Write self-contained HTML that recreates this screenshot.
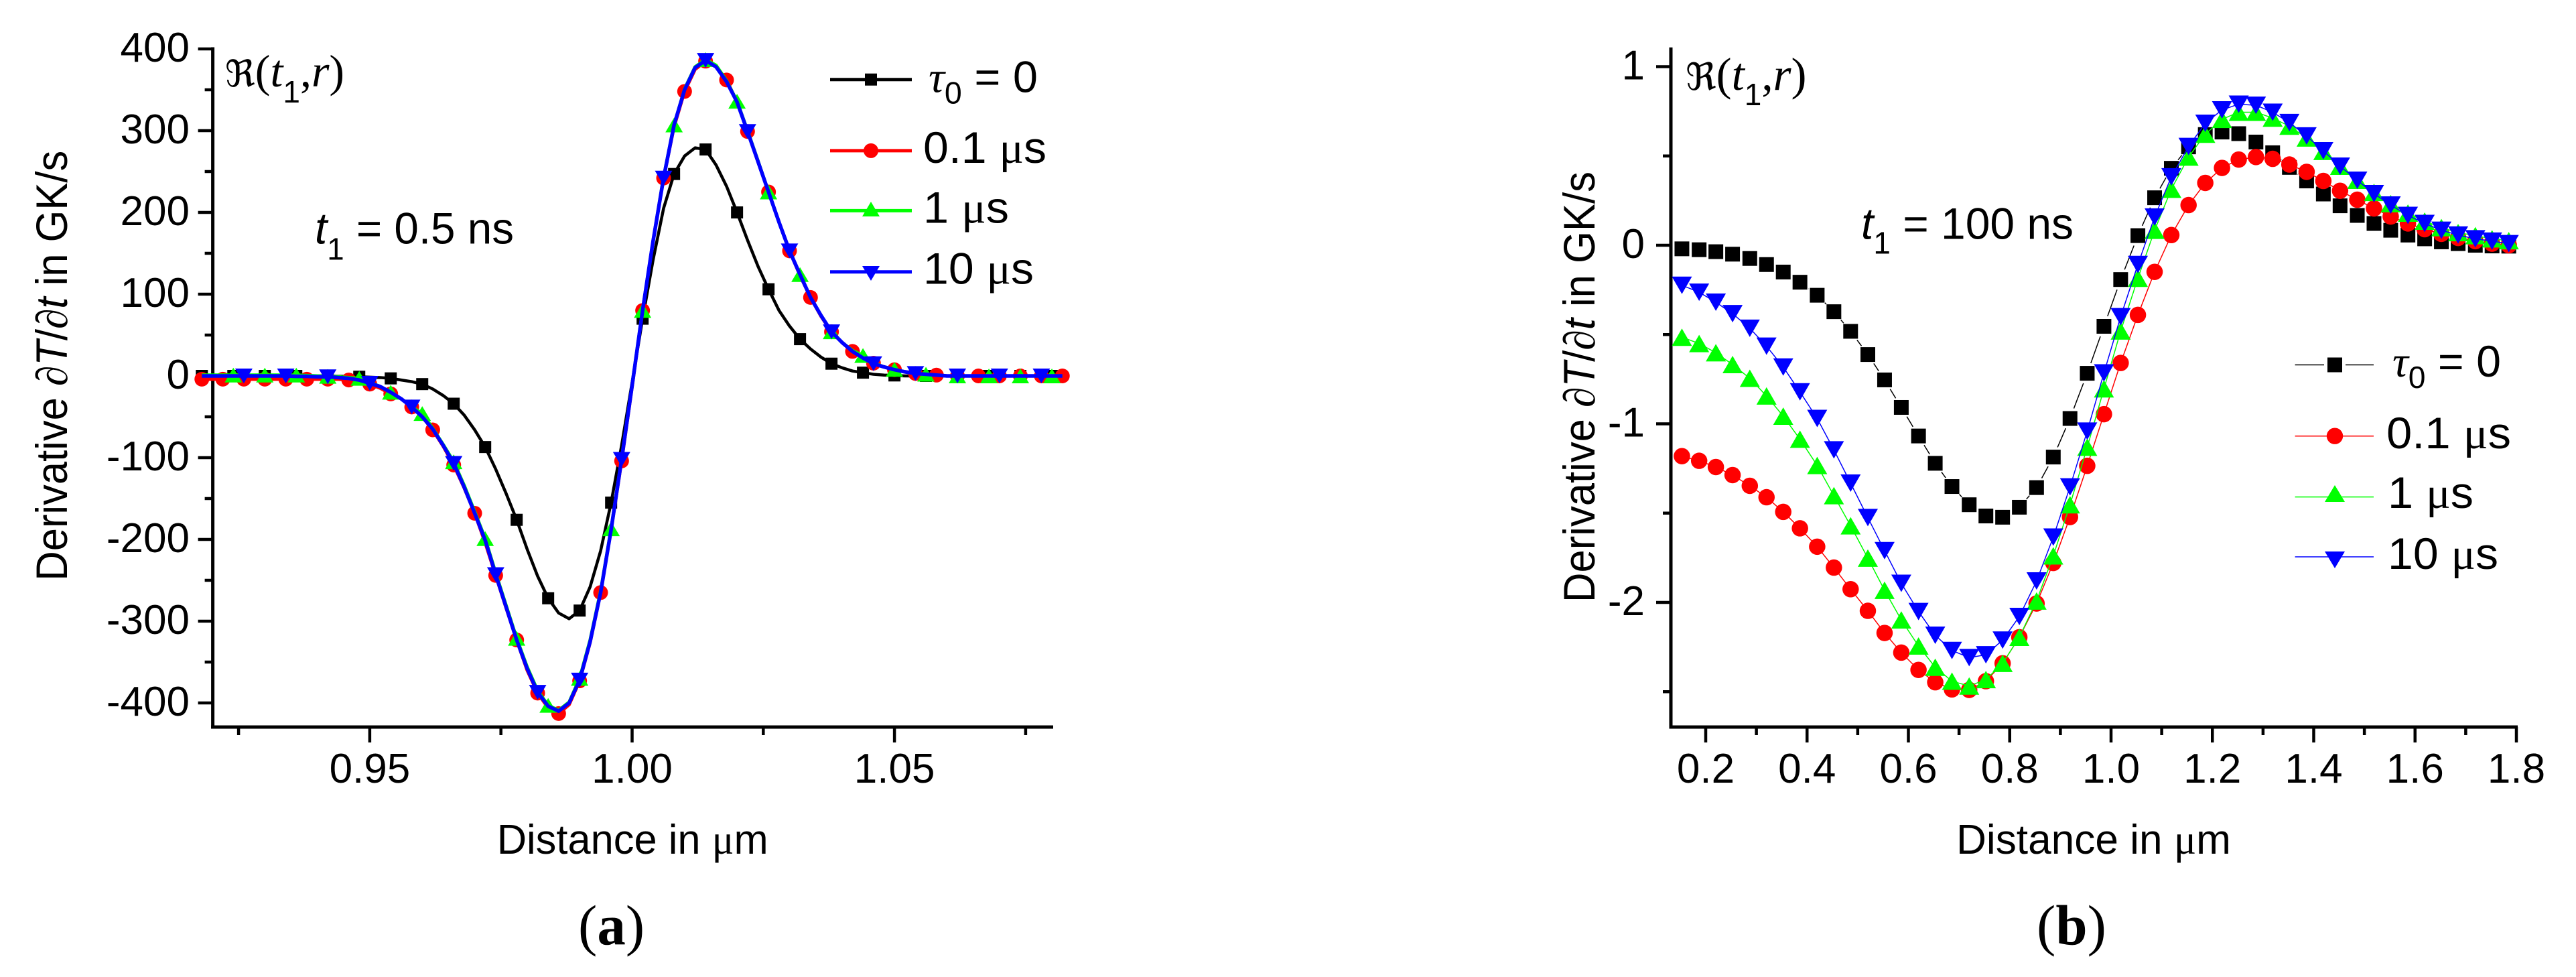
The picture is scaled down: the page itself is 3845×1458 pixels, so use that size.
<!DOCTYPE html>
<html lang="en">
<head>
<meta charset="utf-8">
<title>Derivative of temperature versus distance</title>
<style>
html,body{margin:0;padding:0;background:#fff;}
svg{display:block;}
text{font-family:"Liberation Sans",sans-serif;fill:#000;}
.tick{font-size:62px;}
.title{font-size:62px;}
.ytitle{font-size:66px;}
.leg{font-size:66px;}
.note{font-size:66px;}
.sub{font-size:46px;}
.ser{font-family:"Liberation Serif",serif;}
.it{font-style:italic;}
.cap{font-family:"Liberation Serif",serif;font-size:85px;}
</style>
</head>
<body>
<svg id="figure" xmlns="http://www.w3.org/2000/svg" width="3845" height="1458" viewBox="0 0 3845 1458">
  <rect x="0" y="0" width="3845" height="1458" fill="#fff"/>

  <g id="panel-a">
    <g id="a-axes"></g>
    <g id="a-series"></g>
    <text class="ytitle" transform="translate(100,866.7) rotate(-90)" textLength="642" lengthAdjust="spacingAndGlyphs">Derivative <tspan class="ser it">∂</tspan><tspan class="it">T</tspan>/<tspan class="ser it">∂</tspan><tspan class="it">t</tspan> in GK/s</text>
    <text class="title" x="741.7" y="1274" textLength="405" lengthAdjust="spacingAndGlyphs">Distance in <tspan class="ser">μ</tspan>m</text>
    <text class="ser" font-size="68" x="336" y="129"><tspan font-family="DejaVu Sans" font-size="55">ℜ</tspan>(<tspan class="it">t</tspan><tspan font-family="Liberation Sans" font-size="46" dy="24">1</tspan><tspan dy="-24">,</tspan><tspan class="it">r</tspan>)</text>
    <text class="note" x="470" y="363.6" textLength="297" lengthAdjust="spacingAndGlyphs"><tspan class="it">t</tspan><tspan class="sub" dy="24">1</tspan><tspan dy="-24"> = 0.5 ns</tspan></text>
    <g>
      <g>
        <line x1="1239" x2="1361" y1="118.7" y2="118.7" stroke="#000" stroke-width="5"/>
        <rect x="1291" y="109.7" width="18" height="18" fill="#000"/>
        <text class="leg" x="1386" y="137.3" textLength="163" lengthAdjust="spacingAndGlyphs"><tspan class="ser it">τ</tspan><tspan class="sub" dy="17">0</tspan><tspan dy="-17"> = 0</tspan></text>
      </g>
      <g>
        <line x1="1239" x2="1361" y1="224.9" y2="224.9" stroke="#f00" stroke-width="5"/>
        <circle cx="1300" cy="224.9" r="11" fill="#f00"/>
        <text class="leg" x="1378" y="243" textLength="184" lengthAdjust="spacingAndGlyphs">0.1 <tspan class="ser">μ</tspan>s</text>
      </g>
      <g>
        <line x1="1239" x2="1361" y1="314.4" y2="314.4" stroke="#0f0" stroke-width="5"/>
        <polygon points="1287,323 1313,323 1300,301" fill="#0f0"/>
        <text class="leg" x="1378" y="332.5" textLength="128" lengthAdjust="spacingAndGlyphs">1 <tspan class="ser">μ</tspan>s</text>
      </g>
      <g>
        <line x1="1239" x2="1361" y1="405.7" y2="405.7" stroke="#00f" stroke-width="5"/>
        <polygon points="1287,397 1313,397 1300,419" fill="#00f"/>
        <text class="leg" x="1378" y="423.4" textLength="165" lengthAdjust="spacingAndGlyphs">10 <tspan class="ser">μ</tspan>s</text>
      </g>
    </g>
    <text class="cap" x="863" y="1409.5">(<tspan font-weight="bold">a</tspan>)</text>
  </g>

  <g id="panel-b">
    <g id="b-axes"></g>
    <g id="b-series"></g>
    <text class="ytitle" transform="translate(2380,899) rotate(-90)" textLength="643" lengthAdjust="spacingAndGlyphs">Derivative <tspan class="ser it">∂</tspan><tspan class="it">T</tspan>/<tspan class="ser it">∂</tspan><tspan class="it">t</tspan> in GK/s</text>
    <text class="title" x="2920" y="1274" textLength="410" lengthAdjust="spacingAndGlyphs">Distance in <tspan class="ser">μ</tspan>m</text>
    <text class="ser" font-size="69" x="2516" y="134"><tspan font-family="DejaVu Sans" font-size="56">ℜ</tspan>(<tspan class="it">t</tspan><tspan font-family="Liberation Sans" font-size="46" dy="23">1</tspan><tspan dy="-23">,</tspan><tspan class="it">r</tspan>)</text>
    <text class="note" x="2778" y="356.5" textLength="317" lengthAdjust="spacingAndGlyphs"><tspan class="it">t</tspan><tspan class="sub" dy="22">1</tspan><tspan dy="-22"> = 100 ns</tspan></text>
    <g>
      <g>
        <line x1="3425.6" x2="3469" y1="544.5" y2="544.5" stroke="#000" stroke-width="1.5"/>
        <line x1="3501" x2="3543" y1="544.5" y2="544.5" stroke="#000" stroke-width="1.5"/>
        <rect x="3474" y="533.5" width="22" height="22" fill="#000"/>
        <text class="leg" x="3571" y="562" textLength="162" lengthAdjust="spacingAndGlyphs"><tspan class="ser it">τ</tspan><tspan class="sub" dy="17">0</tspan><tspan dy="-17"> = 0</tspan></text>
      </g>
      <g>
        <line x1="3425.6" x2="3543" y1="650.7" y2="650.7" stroke="#f00" stroke-width="1.5"/>
        <circle cx="3485" cy="650.7" r="12.2" fill="#f00"/>
        <text class="leg" x="3562" y="669" textLength="186" lengthAdjust="spacingAndGlyphs">0.1 <tspan class="ser">μ</tspan>s</text>
      </g>
      <g>
        <line x1="3425.6" x2="3543" y1="741.6" y2="741.6" stroke="#0f0" stroke-width="1.5"/>
        <polygon points="3470,749 3500,749 3485,724" fill="#0f0"/>
        <text class="leg" x="3564" y="758" textLength="128" lengthAdjust="spacingAndGlyphs">1 <tspan class="ser">μ</tspan>s</text>
      </g>
      <g>
        <line x1="3425.6" x2="3543" y1="831" y2="831" stroke="#00f" stroke-width="1.5"/>
        <polygon points="3470,823 3500,823 3485,848" fill="#00f"/>
        <text class="leg" x="3564" y="849" textLength="165" lengthAdjust="spacingAndGlyphs">10 <tspan class="ser">μ</tspan>s</text>
      </g>
    </g>
    <text class="cap" x="3040" y="1409.5">(<tspan font-weight="bold">b</tspan>)</text>
  </g>
</svg>

<script>
// ---------- Panel (a) data ----------
const aDistance = [0.918,0.920,0.922,0.924,0.926,0.928,0.930,0.932,0.934,0.936,0.938,0.940,0.942,0.944,0.946,0.948,0.950,0.952,0.954,0.956,0.958,0.960,0.962,0.964,0.966,0.968,0.970,0.972,0.974,0.976,0.978,0.980,0.982,0.984,0.986,0.988,0.990,0.992,0.994,0.996,0.998,1.000,1.002,1.004,1.006,1.008,1.010,1.012,1.014,1.016,1.018,1.020,1.022,1.024,1.026,1.028,1.030,1.032,1.034,1.036,1.038,1.040,1.042,1.044,1.046,1.048,1.050,1.052,1.054,1.056,1.058,1.060,1.062,1.064,1.066,1.068,1.070,1.072,1.074,1.076,1.078,1.080,1.082];
const aTau0 = [0,0,0,0,0,0,0,0,0,0,0,0,0,-0.5,-0.5,-1,-1.5,-2,-3,-5,-7,-10,-16,-24,-34,-48,-66,-87,-114,-144,-176,-212,-245,-272,-290,-297,-287,-258,-214,-155,-85,-8,70,142,205,247,269,279,277,258,232,200,166,134,106,80,61,45,33,23,15,10,6,4,2,1,0.6,0,0,0,0,0,0,0,0,0,0,0,0,0,0,0,0];
const aTau01 = [-4,-4,-4,-4,-4,-4,-4,-4,-4,-4,-4,-4,-4,-4,-5,-7,-10,-15,-22,-28,-38,-50,-66,-86,-109,-137,-168,-204,-244,-284,-323,-360,-388,-406,-413,-402,-373,-326,-265,-188,-104,-13,80,165,242,305,348,375,385,379,362,335,299,262,225,188,153,123,96,73,54,41,30,22,15.6,11,7.6,5,3,2,1,0,0,0,0,0,0,0,0,0,0,0,0];
const aTau1 = [1,1,1,1,1,1,1,1,1,1,0.5,0,-0.5,-1,-2,-3,-8,-13,-20,-28,-38,-46,-64,-84,-105,-134,-166,-199,-241,-281,-321,-356,-385,-403,-409,-399,-370,-323,-263,-187,-101,-11,80,165,243,307,351,378,387,380,361,336,300,263,225,188,153,124,96,74,54,41,31,25,16,11,8,5,3,2,1,0,0,0,0,0,0,0,0,0,0,0,0];
const aTau10 = [0,0,0,0,0,0,0,0,0,-0.5,-0.5,-1,-1,-2,-3,-5,-9,-13,-20,-28,-38,-50,-65,-85,-107,-136,-168,-201,-243,-283,-323,-358,-387,-404,-410,-400,-372,-325,-265,-188,-102,-12,80,165,242,307,350,377,386,378,360,335,299,262,225,188,153,124,96,74,54,41,30,22,15,11,7.6,5,3,2,1,0,0,0,0,0,0,0,0,0,0,0,0];
const aYMajor = [-400,-300,-200,-100,0,100,200,300,400];
const aYMinor = [-350,-250,-150,-50,50,150,250,350];
const aXMajor = [0.95,1.00,1.05];
const aXMinor = [0.925,0.975,1.025,1.075];
const aXLabels = ["0.95","1.00","1.05"];

// ---------- Panel (b) data ----------
const bDistance = [0.153,0.187,0.220,0.253,0.287,0.320,0.353,0.386,0.420,0.453,0.486,0.520,0.553,0.586,0.620,0.653,0.686,0.720,0.753,0.786,0.819,0.853,0.886,0.919,0.953,0.986,1.019,1.053,1.086,1.119,1.153,1.186,1.219,1.252,1.286,1.319,1.352,1.386,1.419,1.452,1.486,1.519,1.552,1.586,1.619,1.652,1.685,1.719,1.752,1.785];
const bTau0 = [-0.02,-0.025,-0.036,-0.05,-0.074,-0.108,-0.15,-0.207,-0.28,-0.372,-0.482,-0.612,-0.754,-0.908,-1.068,-1.221,-1.351,-1.453,-1.516,-1.523,-1.467,-1.357,-1.186,-0.97,-0.717,-0.454,-0.192,0.054,0.266,0.431,0.551,0.62,0.634,0.625,0.578,0.518,0.436,0.36,0.287,0.221,0.167,0.122,0.084,0.057,0.036,0.019,0.009,0,-0.004,-0.005];
const bTau01 = [-1.181,-1.207,-1.242,-1.287,-1.347,-1.411,-1.493,-1.585,-1.688,-1.805,-1.926,-2.047,-2.171,-2.281,-2.378,-2.447,-2.487,-2.49,-2.441,-2.341,-2.195,-2.006,-1.779,-1.522,-1.235,-0.946,-0.659,-0.39,-0.149,0.057,0.225,0.349,0.433,0.48,0.494,0.484,0.452,0.411,0.36,0.305,0.255,0.206,0.161,0.122,0.09,0.064,0.041,0.023,0.009,0];
const bTau1 = [-0.515,-0.55,-0.602,-0.668,-0.745,-0.844,-0.957,-1.086,-1.233,-1.402,-1.571,-1.752,-1.932,-2.098,-2.244,-2.363,-2.441,-2.468,-2.432,-2.341,-2.195,-1.992,-1.739,-1.453,-1.131,-0.804,-0.48,-0.185,0.084,0.314,0.494,0.622,0.705,0.745,0.745,0.712,0.667,0.601,0.526,0.443,0.364,0.296,0.233,0.18,0.135,0.099,0.071,0.054,0.036,0.026];
const bTau10 = [-0.224,-0.263,-0.319,-0.383,-0.465,-0.565,-0.682,-0.821,-0.97,-1.146,-1.332,-1.525,-1.71,-1.893,-2.051,-2.184,-2.269,-2.309,-2.293,-2.211,-2.079,-1.88,-1.634,-1.353,-1.041,-0.715,-0.4,-0.108,0.158,0.383,0.553,0.683,0.758,0.79,0.784,0.745,0.687,0.612,0.529,0.443,0.364,0.289,0.225,0.167,0.122,0.084,0.057,0.036,0.023,0.009];
const bYMajor = [-2,-1,0,1];
const bYMinor = [-2.5,-1.5,-0.5,0.5];
const bXMajor = [0.2,0.4,0.6,0.8,1.0,1.2,1.4,1.6,1.8];
const bXMinor = [0.3,0.5,0.7,0.9,1.1,1.3,1.5,1.7];
const bXLabels = ["0.2","0.4","0.6","0.8","1.0","1.2","1.4","1.6","1.8"];

const NS = 'http://www.w3.org/2000/svg';

function make(tag, parent, attrs) {
  const el = document.createElementNS(NS, tag);
  for (const k in attrs) el.setAttribute(k, attrs[k]);
  parent.appendChild(el);
  return el;
}

function drawAxes(group, cfg) {
  const axisY = make('line', group, {x1: cfg.left, x2: cfg.left, y1: cfg.top, y2: cfg.bottom + 2.5, stroke: '#000', 'stroke-width': 5});
  
  
  const axisX = make('line', group, {x1: cfg.left - 2.5, x2: cfg.right, y1: cfg.bottom, y2: cfg.bottom, stroke: '#000', 'stroke-width': 5});
  
  

  cfg.yMajor.forEach(function (v) {
    const y = cfg.sy(v);
    const t = make('line', group, {x1: cfg.left - 22, x2: cfg.left, y1: y, y2: y, stroke: '#000', 'stroke-width': 4.5});
    
    
    const label = make('text', group, {class: 'tick', x: cfg.yLabelRight, y: y + 19, 'text-anchor': 'end'});
    label.textContent = String(v);
    
    
  });
  cfg.yMinor.forEach(function (v) {
    const y = cfg.sy(v);
    const t = make('line', group, {x1: cfg.left - 12, x2: cfg.left, y1: y, y2: y, stroke: '#000', 'stroke-width': 4.5});
    
    
  });
  cfg.xMajor.forEach(function (v, i) {
    const x = cfg.sx(v);
    const t = make('line', group, {x1: x, x2: x, y1: cfg.bottom, y2: cfg.bottom + 23, stroke: '#000', 'stroke-width': 4.5});
    
    
    const label = make('text', group, {class: 'tick', x: x, y: 1168, 'text-anchor': 'middle'});
    label.textContent = cfg.xLabels[i];
    
    
  });
  cfg.xMinor.forEach(function (v) {
    const x = cfg.sx(v);
    const t = make('line', group, {x1: x, x2: x, y1: cfg.bottom, y2: cfg.bottom + 12, stroke: '#000', 'stroke-width': 4.5});
    
    
  });
}

function drawMarker(parent, kind, x, y, size, color) {
  let el;
  const h = size.tri / 2;
  const t = size.triH / 2;
  if (kind === 'square') {
    el = make('rect', parent, {x: x - size.sq / 2, y: y - size.sq / 2, width: size.sq, height: size.sq, fill: color});
  } else if (kind === 'circle') {
    el = make('circle', parent, {cx: x, cy: y, r: size.circ / 2, fill: color});
  } else if (kind === 'up') {
    el = make('polygon', parent, {points: (x - h) + ',' + (y + t) + ' ' + (x + h) + ',' + (y + t) + ' ' + x + ',' + (y - t), fill: color});
  } else {
    el = make('polygon', parent, {points: (x - h) + ',' + (y - t) + ' ' + (x + h) + ',' + (y - t) + ' ' + x + ',' + (y + t), fill: color});
  }
  return el;
}

function drawSeries(parent, s, xs, sx, sy, size, lineWidth) {
  const g = make('g', parent, {});
  
  
  const pts = xs.map(function (v, i) { return [sx(v), sy(s.values[i])]; });
  if (s.gap) {
    for (let i = 0; i < pts.length - 1; i++) {
      const dx = pts[i + 1][0] - pts[i][0];
      const dy = pts[i + 1][1] - pts[i][1];
      const len = Math.sqrt(dx * dx + dy * dy);
      if (len <= 2 * s.gap) continue;
      const ux = dx / len, uy = dy / len;
      const seg = make('line', g, {x1: pts[i][0] + ux * s.gap, y1: pts[i][1] + uy * s.gap, x2: pts[i + 1][0] - ux * s.gap, y2: pts[i + 1][1] - uy * s.gap, stroke: s.color, 'stroke-width': lineWidth});
      
      
    }
  } else {
    const line = make('polyline', g, {points: pts.map(function (p) { return p[0] + ',' + p[1]; }).join(' '), fill: 'none', stroke: s.color, 'stroke-width': lineWidth, 'stroke-linejoin': 'round'});
    
    
  }
  for (let i = s.first; i < pts.length; i += s.every) {
    const m = drawMarker(g, s.kind, pts[i][0], pts[i][1], size, s.color);
    
    
  }
}

// ---------- Panel (a) ----------
const aSx = function (v) { return 943.5 + (v - 1) * 7832; };
const aSy = function (v) { return 561 - v * 1.22; };
drawAxes(document.getElementById('a-axes'), {
  left: 317.6, right: 1572, top: 70.5, bottom: 1085, sx: aSx, sy: aSy,
  yMajor: aYMajor, yMinor: aYMinor, xMajor: aXMajor, xMinor: aXMinor, xLabels: aXLabels, yLabelRight: 283
});
const aGroup = document.getElementById('a-series');
const aSize = {sq: 18, circ: 22, tri: 26, triH: 22};
drawSeries(aGroup, {name: 'tau-0', values: aTau0, color: '#000', kind: 'square', first: 0, every: 3}, aDistance, aSx, aSy, aSize, 4.5);
drawSeries(aGroup, {name: '0-1-us', values: aTau01, color: '#f00', kind: 'circle', first: 0, every: 2}, aDistance, aSx, aSy, aSize, 5);
drawSeries(aGroup, {name: '1-us', values: aTau1, color: '#0f0', kind: 'up', first: 3, every: 3}, aDistance, aSx, aSy, aSize, 5);
drawSeries(aGroup, {name: '10-us', values: aTau10, color: '#00f', kind: 'down', first: 4, every: 4}, aDistance, aSx, aSy, aSize, 5.5);

// ---------- Panel (b) ----------
const bSx = function (v) { return 2546 + (v - 0.2) * 756.25; };
const bSy = function (v) { return 366 - v * 266.5; };
drawAxes(document.getElementById('b-axes'), {
  left: 2494, right: 3758, top: 70.8, bottom: 1085, sx: bSx, sy: bSy,
  yMajor: bYMajor, yMinor: bYMinor, xMajor: bXMajor, xMinor: bXMinor, xLabels: bXLabels, yLabelRight: 2455
});
const bGroup = document.getElementById('b-series');
const bSize = {sq: 22, circ: 24.5, tri: 30, triH: 26};
drawSeries(bGroup, {name: 'tau-0', values: bTau0, color: '#000', kind: 'square', first: 0, every: 1, gap: 16}, bDistance, bSx, bSy, bSize, 1.5);
drawSeries(bGroup, {name: '0-1-us', values: bTau01, color: '#f00', kind: 'circle', first: 0, every: 1}, bDistance, bSx, bSy, bSize, 1.5);
drawSeries(bGroup, {name: '1-us', values: bTau1, color: '#0f0', kind: 'up', first: 0, every: 1}, bDistance, bSx, bSy, bSize, 1.5);
drawSeries(bGroup, {name: '10-us', values: bTau10, color: '#00f', kind: 'down', first: 0, every: 1}, bDistance, bSx, bSy, bSize, 1.5);
</script>
</body>
</html>
